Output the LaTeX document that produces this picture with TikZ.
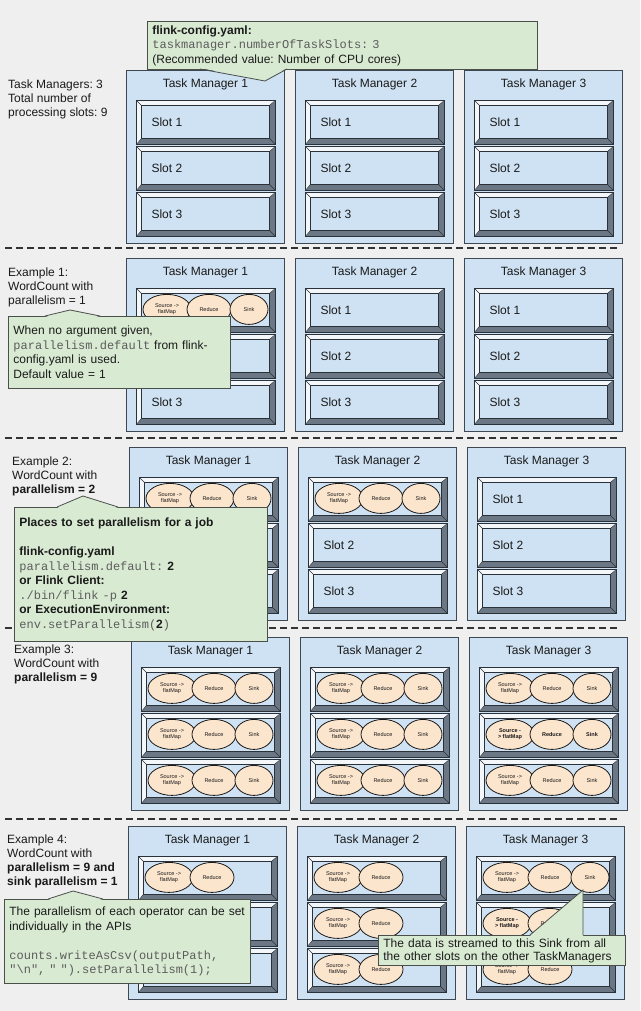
\documentclass[tikz,border=0pt]{standalone}
\usepackage{fontspec}
\setmainfont{Liberation Sans}
\setmonofont{Liberation Mono}
\usepackage{tikz}
\usetikzlibrary{calc,positioning,shapes.geometric}
\definecolor{paper}{HTML}{EFEFEF}
\definecolor{ink}{HTML}{1A1A1A}
\definecolor{tmfill}{HTML}{CFE2F3}
\definecolor{tmline}{HTML}{3E4852}
\definecolor{bevdark}{HTML}{6B7784}
\definecolor{bevlight}{HTML}{F4F7FA}
\definecolor{slotline}{HTML}{2B3138}
\definecolor{notefill}{HTML}{D9EAD3}
\definecolor{noteline}{HTML}{4A4F4A}
\definecolor{opfill}{HTML}{FCE5CD}
\definecolor{codegray}{HTML}{5C5C5C}
\frenchspacing

\begin{document}
\begin{tikzpicture}[x=1pt,y=-1pt,
  tm/.style={draw=tmline,line width=1pt,fill=tmfill,anchor=north west,inner sep=0pt,
             minimum width=158pt,minimum height=173pt},
  tmtitle/.style={font=\fontsize{12}{14}\selectfont,text=ink},
  slot/.style={draw=slotline,line width=0.8pt,fill=bevdark,anchor=north west,inner sep=0pt,
               minimum width=139pt,minimum height=44pt,
    path picture={
      \fill[bevlight] (path picture bounding box.north west)
        -- (path picture bounding box.north east)
        -- ([shift={(-6pt,-5pt)}]path picture bounding box.north east)
        -- ([shift={(5pt,-5pt)}]path picture bounding box.north west)
        -- ([shift={(5pt,6pt)}]path picture bounding box.south west)
        -- (path picture bounding box.south west) -- cycle;
      \draw[slotline,line width=0.4pt]
        (path picture bounding box.north west) -- ++(5pt,-5pt)
        (path picture bounding box.north east) -- ++(-6pt,-5pt)
        (path picture bounding box.south east) -- ++(-6pt,6pt)
        (path picture bounding box.south west) -- ++(5pt,6pt);
      \draw[slotline,line width=0.8pt,fill=tmfill]
        ([shift={(5pt,-5pt)}]path picture bounding box.north west)
        rectangle ([shift={(-6pt,6pt)}]path picture bounding box.south east);
    }},
  slotlab/.style={anchor=west,font=\fontsize{12}{14}\selectfont,text=ink},
  op/.style={ellipse,draw=ink,line width=0.8pt,fill=opfill,minimum height=30pt,inner sep=0pt,
             align=center,text=ink,font=\fontsize{5.5}{6}\selectfont},
  srcop/.style={op,minimum width=48pt},
  redop/.style={op,minimum width=44pt},
  sinkop/.style={op,minimum width=38pt},
  opbold/.style={font=\fontsize{5.5}{6}\selectfont\bfseries},
  sidetext/.style={anchor=north west,align=left,inner sep=0pt,text=ink,
                   font=\fontsize{12}{13.8}\selectfont},
  note/.style={draw=noteline,line width=0.8pt,fill=notefill,anchor=north west,align=left,
               inner xsep=5pt,inner ysep=0pt,text=ink,font=\fontsize{12}{14.5}\selectfont},
  dashsep/.style={dash pattern=on 7pt off 4pt,line width=1.2pt,draw=black!80}
]
\fill[paper] (0,0) rectangle (640,1011);
\useasboundingbox (0,0) rectangle (640,1011);

% left column
\node[sidetext] (tmsum) at (8,80) {Task Managers: 3\\Total number of\\processing slots: 9};
\node[sidetext] (ex1) at (8,268) {Example 1:\\WordCount with\\parallelism = 1};
\node[sidetext] (ex2) at (12,457) {Example 2:\\WordCount with\\\textbf{parallelism = 2}};
\node[sidetext] (ex3) at (14,645) {Example 3:\\WordCount with\\\textbf{parallelism = 9}};
\node[sidetext] (ex4) at (7,835)
  {Example 4:\\WordCount with\\\textbf{parallelism = 9 and}\\\textbf{sink parallelism = 1}};

% task managers and their slots
\foreach \r/\x/\y in {0/126/70,1/126/258,2/129/447,3/131/637,4/128/826} {
  \foreach \t in {1,2,3} {
    \node[tm] (tm\r\t) at ({\x+169*(\t-1)},\y) {};
    \node[tmtitle] (tt\r\t) at ($(tm\r\t.north)+(0,14.5)$) {Task Manager \t};
    \foreach \s in {1,2,3}
      \node[slot] (sl\r\t\s) at ($(tm\r\t.north west)+(10,{30+46*(\s-1)})$) {};
  }
}

% empty slots
\foreach \t in {1,2,3}
  \foreach \s in {1,2,3}
    \node[slotlab] (lab0\t\s) at ($(sl0\t\s.west)+(12,0)$) {Slot \s};
\foreach \r/\t/\s in {1/1/3,1/2/1,1/2/2,1/2/3,1/3/1,1/3/2,1/3/3,
                      2/2/2,2/2/3,2/3/1,2/3/2,2/3/3}
  \node[slotlab] (lab\r\t\s) at ($(sl\r\t\s.west)+(12,0)$) {Slot \s};

% full pipelines
\foreach \r/\t/\s in {1/1/1,2/1/1,2/2/1,3/1/1,3/1/2,3/1/3,3/2/1,3/2/2,3/2/3,3/3/1,3/3/3} {
  \node[srcop] (src\r\t\s) at ($(sl\r\t\s.west)+(31,-1)$) {Source ->\\flatMap};
  \node[redop] (red\r\t\s) at ($(sl\r\t\s.west)+(73,-1)$) {Reduce};
  \node[sinkop] (snk\r\t\s) at ($(sl\r\t\s.west)+(113,-1)$) {Sink};
}
\node[srcop,opbold] (src332) at ($(sl332.west)+(31,-1)$) {Source -\\> flatMap};
\node[redop,opbold] (red332) at ($(sl332.west)+(73,-1)$) {Reduce};
\node[sinkop,opbold] (snk332) at ($(sl332.west)+(113,-1)$) {Sink};

% sink parallelism = 1
\foreach \t/\s in {1/1,2/1,2/2,2/3,3/1,3/3} {
  \node[srcop] (src4\t\s) at ($(sl4\t\s.west)+(31,-1)$) {Source ->\\flatMap};
  \node[redop] (red4\t\s) at ($(sl4\t\s.west)+(74,-1)$) {Reduce};
}
\node[srcop,opbold] (src432) at ($(sl432.west)+(31,-1)$) {Source -\\> flatMap};
\node[redop] (red432) at ($(sl432.west)+(74,-1)$) {Reduce};
\node[sinkop] (snk431) at ($(sl431.west)+(114,-1)$) {Sink};

% separators
\foreach \yy in {248,438,628,819}
  \draw[dashsep] (5,\yy) -- (620,\yy);

% notes
\node[note,text width=380pt,minimum height=48pt] (cfgnote) at (147,21)
  {\textbf{flink-config.yaml:}\\
   {\ttfamily\color{codegray}taskmanager.numberOfTaskSlots: 3}\\
   (Recommended value: Number of CPU cores)};
\coordinate (cfgtip) at (265,81);
\fill[notefill] (200,68) -- (cfgtip) -- (287,68) -- cycle;
\draw[noteline,line width=0.8pt] (200,69) -- (cfgtip) -- (287,69);

\node[note,text width=212pt,minimum height=72pt] (ex1note) at (8,316)
  {When no argument given,\\
   {\ttfamily\color{codegray}parallelism.default} from flink-\\
   config.yaml is used.\\
   Default value = 1};
\coordinate (ex1tip) at (70,310);
\fill[notefill] (45,317) -- (ex1tip) -- (100,317) -- cycle;
\draw[noteline,line width=0.8pt] (45,316) -- (ex1tip) -- (100,316);

\node[note,text width=243pt,minimum height=134pt] (ex2note) at (14,507)
  {\textbf{Places to set parallelism for a job}\\[14.5pt]
   \textbf{flink-config.yaml}\\
   {\ttfamily\color{codegray}parallelism.default:} \textbf{2}\\
   \textbf{or Flink Client:}\\
   {\ttfamily\color{codegray}./bin/flink -p} \textbf{2}\\
   \textbf{or ExecutionEnvironment:}\\
   {\ttfamily\color{codegray}env.setParallelism(}\textbf{2}{\ttfamily\color{codegray})}};
\coordinate (ex2tip) at (83,496);
\fill[notefill] (57,508) -- (ex2tip) -- (118,508) -- cycle;
\draw[noteline,line width=0.8pt] (57,507) -- (ex2tip) -- (118,507);

\node[note,text width=236pt,minimum height=84pt] (ex4note) at (4,899)
  {The parallelism of each operator can be set\\
   individually in the APIs\\[14.5pt]
   {\ttfamily\color{codegray}counts.writeAsCsv(outputPath,}\\
   {\ttfamily\color{codegray}"\textbackslash{}n", " ").setParallelism(1);}};
\coordinate (ex4tip) at (73,891);
\fill[notefill] (48,900) -- (ex4tip) -- (103,900) -- cycle;
\draw[noteline,line width=0.8pt] (48,899) -- (ex4tip) -- (103,899);

\node[note,text width=237pt,minimum height=30pt,font=\fontsize{12}{13}\selectfont] (sinknote) at (378,935)
  {The data is streamed to this Sink from all\\
   the other slots on the other TaskManagers};
\coordinate (sinktip) at (583,890);
\fill[notefill] (530,936) -- (sinktip) -- (583,936) -- cycle;
\draw[noteline,line width=0.8pt] (530,935) -- (sinktip) -- (583,935);
\end{tikzpicture}
\end{document}
